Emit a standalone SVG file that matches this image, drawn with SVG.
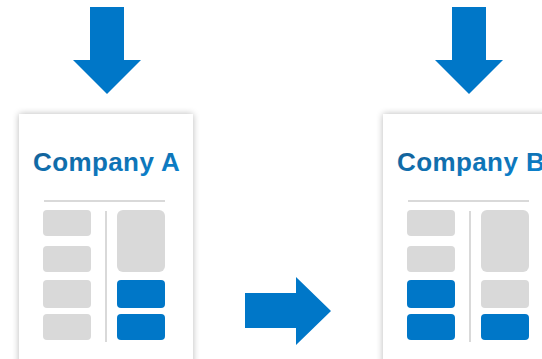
<svg xmlns="http://www.w3.org/2000/svg" width="542" height="359" viewBox="0 0 542 359">
<defs>
<filter id="sh" x="-20%" y="-20%" width="140%" height="140%">
<feGaussianBlur in="SourceAlpha" stdDeviation="3.5"/>
<feOffset dx="0" dy="0"/>
<feComponentTransfer><feFuncA type="linear" slope="0.28"/></feComponentTransfer>
<feMerge><feMergeNode/><feMergeNode in="SourceGraphic"/></feMerge>
</filter>
<linearGradient id="tg" x1="0" y1="0" x2="1" y2="1">
<stop offset="0" stop-color="#145f93"/>
<stop offset="1" stop-color="#0a84d2"/>
</linearGradient>
<style>
.page{fill:#ffffff;filter:url(#sh)}
.title{font-family:"Liberation Sans",Arial,sans-serif;font-weight:bold;font-size:26px;letter-spacing:0.4px;fill:url(#tg)}
.rule{stroke:#d9d9d9;stroke-width:2}
.g{fill:#d9d9d9}
.b{fill:#0077c8}
.arrow{fill:#0077c8}
</style>
</defs>
<rect width="542" height="359" fill="#ffffff"/>
<g id="connectors">
<polygon class="arrow" points="90,7 124,7 124,60 141,60 107,94 73,60 90,60"/>
<polygon class="arrow" points="452,7 486,7 486,60 503,60 469,94 435,60 452,60"/>
<polygon class="arrow" points="245,293 296,293 296,277 331,311 296,345 296,328 245,328"/>
</g>
<g id="companyA">
<rect class="page" x="19" y="114" width="174" height="260"/>
<text class="title" x="33" y="171">Company A</text>
<line class="rule" x1="44" y1="201" x2="165" y2="201"/>
<line class="rule" x1="106" y1="211" x2="106" y2="342"/>
<rect class="g" x="43" y="210" width="48" height="26" rx="4"/>
<rect class="g" x="43" y="246" width="48" height="26" rx="4"/>
<rect class="g" x="43" y="280" width="48" height="28" rx="4"/>
<rect class="g" x="43" y="314" width="48" height="26" rx="4"/>
<rect class="g" x="117" y="210" width="48" height="62" rx="6"/>
<rect class="b" x="117" y="280" width="48" height="28" rx="4"/>
<rect class="b" x="117" y="314" width="48" height="26" rx="4"/>
</g>
<g id="companyB">
<rect class="page" x="383" y="114" width="174" height="260"/>
<text class="title" x="397" y="171">Company B</text>
<line class="rule" x1="408" y1="201" x2="529" y2="201"/>
<line class="rule" x1="470" y1="211" x2="470" y2="342"/>
<rect class="g" x="407" y="210" width="48" height="26" rx="4"/>
<rect class="g" x="407" y="246" width="48" height="26" rx="4"/>
<rect class="b" x="407" y="280" width="48" height="28" rx="4"/>
<rect class="b" x="407" y="314" width="48" height="26" rx="4"/>
<rect class="g" x="481" y="210" width="48" height="62" rx="6"/>
<rect class="g" x="481" y="280" width="48" height="28" rx="4"/>
<rect class="b" x="481" y="314" width="48" height="26" rx="4"/>
</g>
</svg>
